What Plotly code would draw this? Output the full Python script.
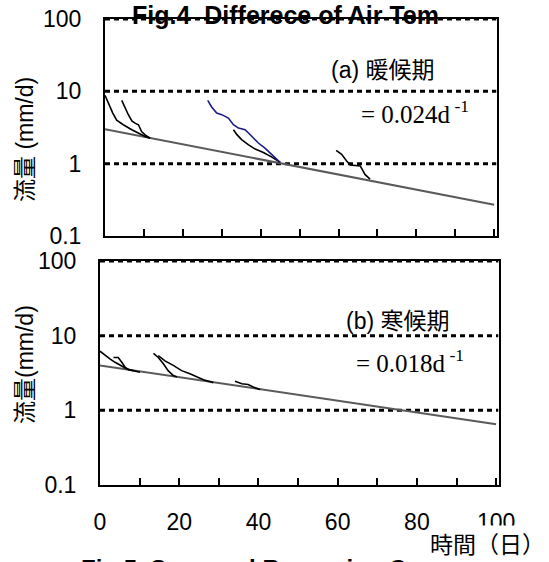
import plotly.graph_objects as go

W, H = 549, 562

# ---------------- data: (a) warm season ----------------
t_fit_a = [0, 10, 20, 30, 40, 50, 60, 70, 80, 90, 100]
q_fit_a = [3.00, 2.36, 1.86, 1.46, 1.15, 0.90, 0.71, 0.56, 0.44, 0.35, 0.27]

t_a1 = [0, 1, 2, 3, 4.7, 6.9, 8.6, 10.3, 11.6]
q_a1 = [8.8, 6.5, 5.0, 4.0, 3.45, 2.94, 2.64, 2.37, 2.25]

t_a2 = [4.3, 5.1, 6.0, 6.9, 7.7, 8.6, 9.4, 10.3, 11.6]
q_a2 = [7.5, 5.9, 4.75, 3.9, 3.63, 3.45, 2.78, 2.5, 2.25]

t_a3 = [26.4, 27.4, 28.7, 30.0, 31.7, 33.0, 34.3, 36.0, 37.7, 39.4, 41.1, 42.9, 45.0]
q_a3 = [7.5, 6.07, 5.0, 4.76, 4.27, 3.46, 3.1, 2.95, 2.39, 1.93, 1.64, 1.33, 1.04]

t_a4 = [33.0, 33.9, 35.1, 36.8, 38.6, 40.7, 42.9, 45.0]
q_a4 = [2.95, 2.52, 2.15, 1.83, 1.59, 1.43, 1.23, 1.04]

t_a5 = [59.4, 60.8, 62.1, 63.0, 65.6, 66.8, 68.1]
q_a5 = [1.53, 1.35, 1.09, 0.96, 0.93, 0.71, 0.61]

# ---------------- data: (b) cold season ----------------
t_fit_b = [0, 10, 20, 30, 40, 50, 60, 70, 80, 90, 100]
q_fit_b = [4.00, 3.34, 2.79, 2.33, 1.95, 1.63, 1.36, 1.13, 0.95, 0.79, 0.65]

t_b1 = [0, 1.3, 2.5, 3.8, 5.1, 6.7, 8.4, 10.1]
q_b1 = [6.2, 5.4, 4.9, 4.4, 4.0, 3.6, 3.4, 3.24]

t_b2 = [3.4, 4.6, 5.5, 6.3, 7.2, 8.4]
q_b2 = [5.1, 5.1, 4.4, 3.8, 3.5, 3.4]

t_b3 = [13.5, 14.7, 16.0, 17.2, 18.5, 19.4]
q_b3 = [5.8, 5.1, 4.2, 3.4, 2.93, 2.8]

t_b4 = [14.7, 16.4, 18.5, 20.6, 22.7, 24.4, 26.1, 28.6]
q_b4 = [5.4, 4.6, 4.0, 3.4, 3.08, 2.84, 2.57, 2.35]

t_b5 = [34.1, 35.8, 37.4, 38.7, 40.4]
q_b5 = [2.46, 2.27, 2.22, 2.05, 1.9]

ref_levels = [1, 10, 100]
x_span = [0, 100.6]

y_tickvals = [0.1, 1, 10, 100]
y_ticktext = ["0.1", "1", "10", "100"]
x_tickvals = [0, 10, 20, 30, 40, 50, 60, 70, 80, 90, 100]
x_ticktext = ["0", "", "20", "", "40", "", "60", "", "80", "", "100"]

BLACK = "#000000"
GREY = "#5a5a5a"
BLUE = "#1c1c8a"
SANS = "Liberation Sans, Arial, Noto Sans CJK JP"
CJK = "Liberation Sans, Noto Sans CJK JP"
SERIF = "Liberation Serif, Times New Roman, serif"

fig = go.Figure()


def add_line(x, y, color, width, xa, ya, dash=None):
    fig.add_trace(go.Scatter(x=x, y=y, mode="lines", xaxis=xa, yaxis=ya,
                             line=dict(color=color, width=width, dash=dash),
                             hoverinfo="skip", showlegend=False))


# reference dotted lines
for lv in ref_levels:
    add_line(x_span, [lv, lv], BLACK, 3, "x", "y", dash="5px,4px")
    add_line(x_span, [lv, lv], BLACK, 3, "x2", "y2", dash="5px,4px")

# panel (a)
add_line(t_fit_a, q_fit_a, GREY, 2, "x", "y")
add_line(t_a1, q_a1, BLACK, 1.6, "x", "y")
add_line(t_a2, q_a2, BLACK, 1.6, "x", "y")
add_line(t_a4, q_a4, BLACK, 1.6, "x", "y")
add_line(t_a3, q_a3, BLUE, 1.6, "x", "y")
add_line(t_a5, q_a5, BLACK, 1.6, "x", "y")

# panel (b)
add_line(t_fit_b, q_fit_b, GREY, 2, "x2", "y2")
add_line(t_b1, q_b1, BLACK, 1.6, "x2", "y2")
add_line(t_b2, q_b2, BLACK, 1.6, "x2", "y2")
add_line(t_b3, q_b3, BLACK, 1.6, "x2", "y2")
add_line(t_b4, q_b4, BLACK, 1.6, "x2", "y2")
add_line(t_b5, q_b5, BLACK, 1.6, "x2", "y2")


def px(v):  # page pixel -> paper fraction
    return v / W


def py(v):
    return 1 - v / H


xcommon = dict(range=x_span, showline=True, mirror=True, linecolor=BLACK, linewidth=2,
               ticks="inside", ticklen=7, tickwidth=1.5, tickcolor=BLACK,
               tickvals=x_tickvals, showgrid=False, zeroline=False, automargin=False)
ycommon = dict(type="log", range=[-1, 2], showline=True, mirror=True, linecolor=BLACK,
               linewidth=2, ticks="", tickvals=y_tickvals, ticktext=y_ticktext,
               showgrid=False, zeroline=False, ticklabelstandoff=17, automargin=False,
               tickfont=dict(family=SANS, size=23, color=BLACK))

fig.update_layout(
    template="none",
    width=W, height=H, autosize=False,
    margin=dict(l=0, r=0, t=0, b=0, pad=0),
    paper_bgcolor="white", plot_bgcolor="white", showlegend=False,
    font=dict(family=SANS, color=BLACK),
    xaxis=dict(domain=[px(105), px(496.5)], anchor="y", showticklabels=False, **xcommon),
    yaxis=dict(domain=[py(236), py(19)], anchor="x", **ycommon),
    xaxis2=dict(domain=[px(100), px(498.5)], anchor="y2", ticktext=x_ticktext,
                tickfont=dict(family=SANS, size=23, color=BLACK), ticklabelstandoff=15,
                **xcommon),
    yaxis2=dict(domain=[py(485), py(261)], anchor="x2", **ycommon),
)


def ann(text, x, y, size=22, family=SANS, angle=0, xanchor="center", bold=False, bg=None):
    fig.add_annotation(text=f"<b>{text}</b>" if bold else text, x=px(x), y=py(y),
                       xref="paper", yref="paper", showarrow=False, xanchor=xanchor,
                       yanchor="middle", textangle=angle, borderpad=0,
                       bgcolor=bg if bg else "rgba(0,0,0,0)",
                       font=dict(family=family, size=size, color=BLACK))


ann("Fig.4  Differece of Air Tem", 285, 15, size=25, bold=True)
ann("(a) 暖候期", 383, 70, size=23, family=CJK)
ann("= 0.024d<sup> -1</sup>", 415, 112, size=25, family=SERIF)
ann("(b) 寒候期", 398, 321, size=23, family=CJK)
ann("= 0.018d<sup> -1</sup>", 410, 361, size=25, family=SERIF)
ann("流量 (mm/d)", 25, 140, size=23, family=CJK, angle=-90)
ann("流量(mm/d)", 25, 365, size=23, family=CJK, angle=-90)
ann("時間（日）", 487, 543, size=23, family="Noto Sans CJK JP", bg="white")
ann("Fig.5  Seasonal Recession Curve", 80, 568, size=24, xanchor="left", bold=True)

fig.write_html("out.html", config={"displayModeBar": False},
               post_script="document.body.style.margin='0';"
                           "document.body.style.overflow='hidden';")
